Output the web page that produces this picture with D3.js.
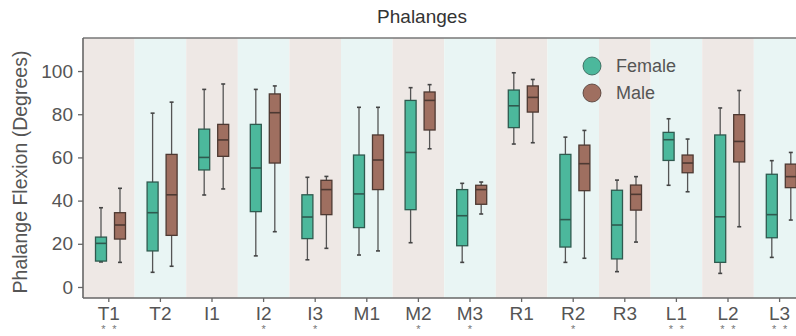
<!DOCTYPE html>
<html>
<head>
<meta charset="utf-8">
<script src="https://cdn.jsdelivr.net/npm/d3@7"></script>
<style>
  body { margin: 0; background: #fff; }
  svg { display: block; font-family: Arial, "Liberation Sans", sans-serif; }
</style>
</head>
<body>
<div id="chart"></div>
<script>
// categories along the x axis
const phalanges = ["T1", "T2", "I1", "I2", "I3", "M1", "M2", "M3", "R1", "R2", "R3", "L1", "L2", "L3"];

// box stats per phalanx: [low whisker, q1, median, q3, high whisker]
const femaleStats = [
  [11.6, 12.0, 20.2, 23.1, 36.7],
  [6.8, 16.7, 34.4, 48.6, 80.5],
  [42.6, 54.2, 60.0, 73.1, 91.5],
  [14.4, 34.9, 55.1, 75.3, 91.5],
  [12.6, 22.4, 32.4, 42.7, 50.8],
  [14.8, 27.5, 43.1, 61.1, 83.2],
  [20.5, 35.8, 62.3, 86.4, 92.3],
  [11.4, 19.1, 33.0, 45.1, 48.0],
  [66.2, 73.8, 83.9, 91.2, 99.2],
  [11.4, 18.5, 31.2, 61.4, 69.4],
  [7.1, 13.0, 28.7, 44.8, 49.5],
  [47.1, 58.6, 68.2, 71.6, 77.9],
  [6.3, 11.4, 32.5, 70.4, 82.9],
  [13.7, 22.8, 33.5, 52.2, 58.5]
];

const maleStats = [
  [11.4, 22.2, 28.7, 34.4, 45.7],
  [9.6, 23.9, 42.7, 61.4, 85.6],
  [45.4, 60.5, 68.1, 75.3, 94.0],
  [25.6, 57.4, 80.7, 89.4, 93.1],
  [17.9, 33.5, 45.1, 49.4, 51.2],
  [16.7, 45.1, 58.8, 70.4, 83.2],
  [64.0, 72.7, 86.4, 90.3, 93.7],
  [33.8, 38.3, 45.1, 47.1, 48.6],
  [66.8, 81.0, 87.8, 93.1, 96.1],
  [13.3, 44.6, 57.1, 65.7, 72.5],
  [20.8, 35.6, 42.9, 47.2, 51.1],
  [44.1, 52.9, 57.4, 61.1, 68.5],
  [27.9, 57.9, 67.4, 79.8, 91.0],
  [31.0, 46.0, 51.1, 56.9, 62.3]
];

// significance stars under each label
const stars = [2, 0, 0, 1, 1, 0, 1, 1, 0, 1, 0, 2, 2, 2];

const yTicks = [0, 20, 40, 60, 80, 100];

const series = [
  { name: "Female", stats: femaleStats, fill: "#4cb89c", stroke: "#2f5a4f", offset: 18 },
  { name: "Male", stats: maleStats, fill: "#9f6f60", stroke: "#4d3932", offset: 37 }
];

const width = 796, height = 336;
const plotLeft = 83, plotTop = 38, plotBottom = 298;
const bandW = 51.6;

const svg = d3.select("#chart").append("svg")
    .attr("width", width)
    .attr("height", height);

const x = d3.scaleBand()
    .domain(phalanges)
    .range([plotLeft, plotLeft + bandW * phalanges.length])
    .padding(0);

const y = d3.scaleLinear()
    .domain([-5.1, 115.3])
    .range([plotBottom, plotTop]);

//alternating background bands
svg.append("g").selectAll("rect")
  .data(phalanges)
  .enter().append("rect")
    .attr("x", (d) => x(d))
    .attr("y", plotTop)
    .attr("width", x.bandwidth())
    .attr("height", plotBottom - plotTop)
    .attr("fill", (d, i) => i % 2 === 0 ? "#eee8e5" : "#e9f5f4");

//frame top line
svg.append("line")
    .attr("x1", plotLeft).attr("x2", width)
    .attr("y1", plotTop).attr("y2", plotTop)
    .attr("stroke", "#777").attr("stroke-width", 1.5);

//boxes
series.forEach((s) => {
  const g = svg.append("g").attr("class", "series-" + s.name);
  const box = g.selectAll("g")
    .data(s.stats)
    .enter().append("g")
      .attr("transform", (d, i) => "translate(" + (x(phalanges[i]) + s.offset) + ",0)");

  box.append("line")
      .attr("x1", 0).attr("x2", 0)
      .attr("y1", (d) => y(d[0])).attr("y2", (d) => y(d[4]))
      .attr("stroke", "#555").attr("stroke-width", 1.3);

  box.selectAll(".cap")
    .data((d) => [d[0], d[4]])
    .enter().append("line")
      .attr("class", "cap")
      .attr("x1", -2).attr("x2", 2)
      .attr("y1", (v) => y(v)).attr("y2", (v) => y(v))
      .attr("stroke", "#444").attr("stroke-width", 1.6);

  box.append("rect")
      .attr("x", -5.5)
      .attr("width", 11)
      .attr("y", (d) => y(d[3]))
      .attr("height", (d) => y(d[1]) - y(d[3]))
      .attr("fill", s.fill)
      .attr("stroke", s.stroke)
      .attr("stroke-width", 1.3);

  box.append("line")
      .attr("x1", -5.5).attr("x2", 5.5)
      .attr("y1", (d) => y(d[2])).attr("y2", (d) => y(d[2]))
      .attr("stroke", s.stroke).attr("stroke-width", 1.6);
});

//y axis
const yAxis = svg.append("g")
    .attr("transform", "translate(78,0)")
    .call(d3.axisLeft(y).tickValues(yTicks).tickSize(5).tickPadding(1));
yAxis.select(".domain").remove();
yAxis.selectAll(".tick line").attr("stroke", "#666").attr("stroke-width", 1.3).attr("transform", "translate(5,0)");
yAxis.selectAll(".tick text").attr("fill", "#555").style("font-size", "19px").attr("x", -5);

svg.append("line")
    .attr("x1", plotLeft).attr("x2", plotLeft)
    .attr("y1", plotTop).attr("y2", plotBottom)
    .attr("stroke", "#666").attr("stroke-width", 1.6);

//x axis
const xAxis = svg.append("g")
    .attr("transform", "translate(0," + plotBottom + ")")
    .call(d3.axisBottom(x).tickSize(4).tickPadding(5));
xAxis.select(".domain").attr("d", "M" + plotLeft + ",0H" + width).attr("stroke", "#666").attr("stroke-width", 1.6);
xAxis.selectAll(".tick line").attr("stroke", "#666").attr("stroke-width", 1.3);
xAxis.selectAll(".tick text").attr("fill", "#555").style("font-size", "19px");

//stars
phalanges.forEach((p, i) => {
  const n = stars[i];
  const cx = x(p) + x.bandwidth() / 2;
  for (let k = 0; k < n; k++) {
    svg.append("text")
      .attr("x", cx + (n === 2 ? (k === 0 ? -5.5 : 5.5) : 0))
      .attr("y", 333)
      .attr("text-anchor", "middle")
      .attr("fill", "#777")
      .style("font-size", "11px")
      .text("*");
  }
});

//titles
svg.append("text")
    .attr("x", 422).attr("y", 23)
    .attr("text-anchor", "middle")
    .attr("fill", "#333")
    .style("font-size", "19px")
    .text("Phalanges");

svg.append("text")
    .attr("transform", "translate(27,172) rotate(-90)")
    .attr("text-anchor", "middle")
    .attr("fill", "#555")
    .style("font-size", "19.5px")
    .text("Phalange Flexion (Degrees)");

//legend
const legend = svg.append("g").selectAll("g")
  .data(series)
  .enter().append("g")
    .attr("transform", (d, i) => "translate(592," + (66 + i * 27) + ")");

legend.append("circle")
    .attr("r", 9)
    .attr("fill", (d) => d.fill)
    .attr("stroke", (d) => d.stroke)
    .attr("stroke-width", 0.8);

legend.append("text")
    .attr("x", 24)
    .attr("dy", "0.35em")
    .attr("fill", "#555")
    .style("font-size", "18px")
    .text((d) => d.name);
</script>
</body>
</html>
